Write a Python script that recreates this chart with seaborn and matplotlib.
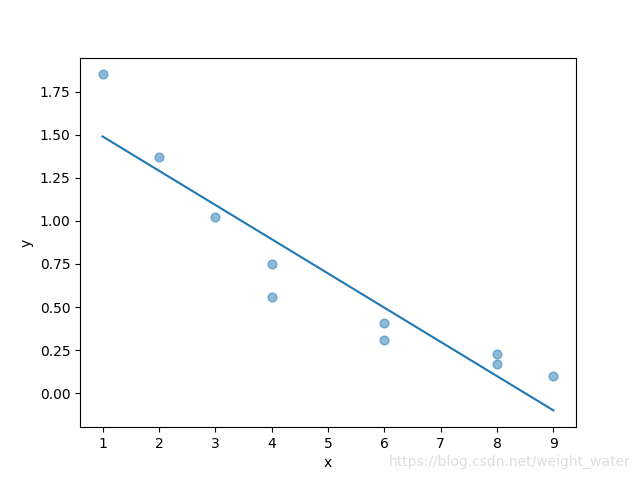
import matplotlib
matplotlib.use("Agg")
import matplotlib.pyplot as plt
import seaborn as sns

# Scatter data
x_points = [1, 2, 3, 4, 4, 6, 6, 8, 8, 9]
y_points = [1.85, 1.37, 1.02, 0.75, 0.56, 0.41, 0.31, 0.23, 0.17, 0.10]

# Fitted line endpoints
x_line = [1, 9]
y_line = [1.49, -0.10]

fig, ax = plt.subplots(figsize=(6.4, 4.8), dpi=100)

sns.scatterplot(x=x_points, y=y_points, ax=ax, color="C0", alpha=0.5, s=40,
                edgecolor="C0", linewidth=1)
sns.lineplot(x=x_line, y=y_line, ax=ax, color="C0")

ax.set_xlabel("x")
ax.set_ylabel("y")

fig.text(0.985, 0.03, "https://blog.csdn.net/weight_water", color="#dddddd",
         fontsize=10, ha="right")

fig.savefig("out.png")
